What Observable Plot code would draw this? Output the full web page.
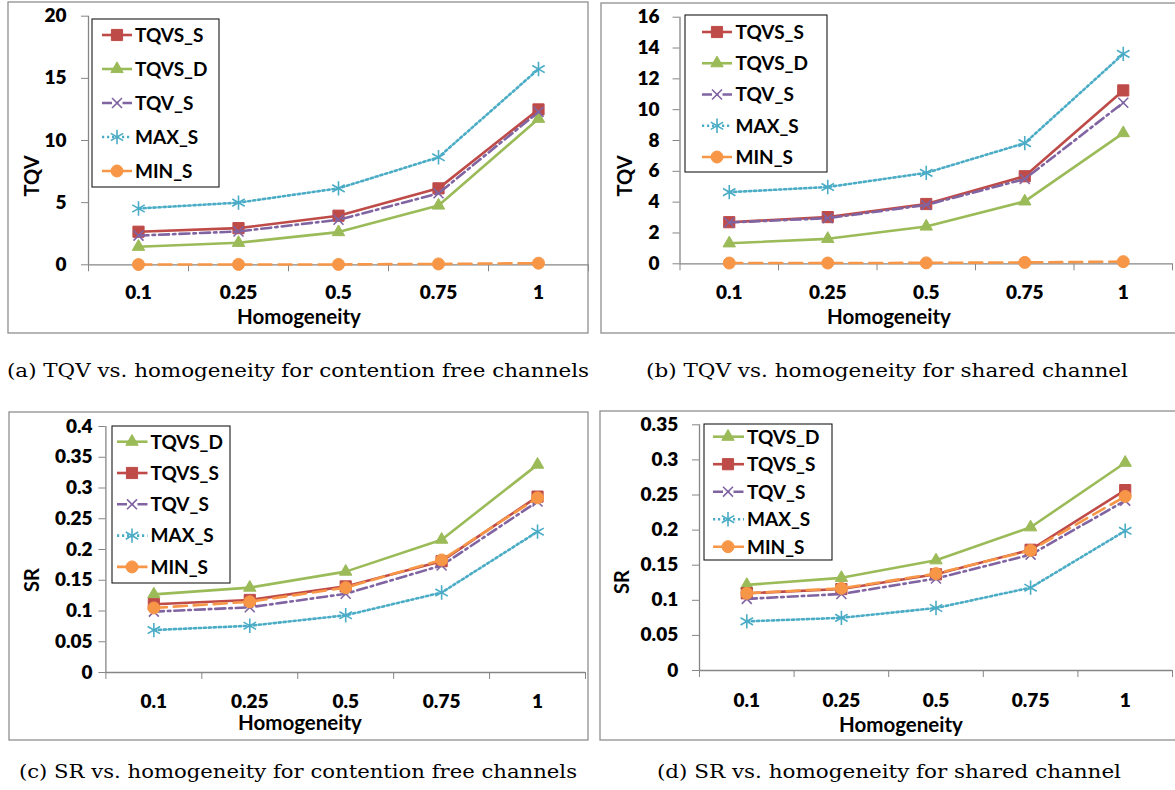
<!DOCTYPE html>
<html>
<head>
<meta charset="utf-8">
<script src="https://cdn.jsdelivr.net/npm/d3@7"></script>
<script src="https://cdn.jsdelivr.net/npm/@observablehq/plot@0.6"></script>
<style>
  html, body { margin: 0; padding: 0; background: #fff; }
  #page { position: relative; width: 1175px; height: 790px; overflow: hidden; background: #fff; }
  .plot { position: absolute; }
  #overlay { position: absolute; left: 0; top: 0; pointer-events: none; }
</style>
</head>
<body>
<div id="page"></div>
<script>
// ---- data -------------------------------------------------------------
const categories = ["0.1", "0.25", "0.5", "0.75", "1"];
const seriesNames = ["TQVS_S", "TQVS_D", "TQV_S", "MAX_S", "MIN_S"];

// TQV, contention free channels
const tqvFree_TQVS_S = [2.66, 2.95, 3.95, 6.15, 12.5];
const tqvFree_TQVS_D = [1.45, 1.77, 2.63, 4.77, 11.75];
const tqvFree_TQV_S  = [2.35, 2.68, 3.62, 5.75, 12.3];
const tqvFree_MAX_S  = [4.53, 5.0, 6.15, 8.65, 15.75];
const tqvFree_MIN_S  = [0.02, 0.03, 0.03, 0.07, 0.13];

// TQV, shared channel
const tqvShared_TQVS_S = [2.7, 3.03, 3.88, 5.68, 11.25];
const tqvShared_TQVS_D = [1.33, 1.62, 2.42, 4.05, 8.48];
const tqvShared_TQV_S  = [2.68, 2.96, 3.82, 5.5, 10.45];
const tqvShared_MAX_S  = [4.65, 4.98, 5.9, 7.83, 13.62];
const tqvShared_MIN_S  = [0.05, 0.05, 0.06, 0.09, 0.14];

// SR, contention free channels
const srFree_TQVS_D = [0.127, 0.138, 0.164, 0.216, 0.338];
const srFree_TQVS_S = [0.111, 0.118, 0.14, 0.181, 0.286];
const srFree_TQV_S  = [0.099, 0.106, 0.128, 0.174, 0.278];
const srFree_MAX_S  = [0.069, 0.076, 0.093, 0.13, 0.229];
const srFree_MIN_S  = [0.105, 0.115, 0.138, 0.183, 0.284];

// SR, shared channel
const srShared_TQVS_D = [0.122, 0.132, 0.157, 0.204, 0.296];
const srShared_TQVS_S = [0.11, 0.116, 0.137, 0.172, 0.257];
const srShared_TQV_S  = [0.102, 0.109, 0.131, 0.165, 0.242];
const srShared_MAX_S  = [0.07, 0.075, 0.089, 0.118, 0.199];
const srShared_MIN_S  = [0.11, 0.117, 0.138, 0.171, 0.248];

// tick labels
const tqvFreeTicks   = [0, 5, 10, 15, 20];
const tqvSharedTicks = [0, 2, 4, 6, 8, 10, 12, 14, 16];
const srFreeTicks    = [0, 0.05, 0.1, 0.15, 0.2, 0.25, 0.3, 0.35, 0.4];
const srSharedTicks  = [0, 0.05, 0.1, 0.15, 0.2, 0.25, 0.3, 0.35];

const xTitle = "Homogeneity";
const captions = [
  "(a) TQV vs. homogeneity for contention free channels",
  "(b) TQV vs. homogeneity for shared channel",
  "(c) SR vs. homogeneity for contention free channels",
  "(d) SR vs. homogeneity for shared channel"
];

// ---- styles -------------------------------------------------------------
const axisGray = "#868686";
const styles = {
  TQVS_S: {color: "#BE4B48", dash: null,         symbol: "square",   r: 6.3, filled: true},
  TQVS_D: {color: "#9BBB59", dash: null,         symbol: "triangle", r: 4.6, filled: true},
  TQV_S:  {color: "#8064A2", dash: "10,4,2.5,4", symbol: "times",    r: 4.6, filled: false},
  MAX_S:  {color: "#4BACC6", dash: "2.2,2.8",    symbol: "asterisk", r: 6.8, filled: false},
  MIN_S:  {color: "#F79646", dash: "13,7",       symbol: "circle",   r: 6.0, filled: true}
};
const chartFont = "Lato, 'Open Sans', sans-serif";
const tickFontSize = 19;

// ---- panel layout -------------------------------------------------------
const panels = [
  {
    values: {TQVS_S: tqvFree_TQVS_S, TQVS_D: tqvFree_TQVS_D, TQV_S: tqvFree_TQV_S, MAX_S: tqvFree_MAX_S, MIN_S: tqvFree_MIN_S},
    order: ["TQVS_S", "TQVS_D", "TQV_S", "MAX_S", "MIN_S"],
    yDomain: [0, 20], yTicks: tqvFreeTicks, yTitle: "TQV",
    frame: {x: 8, y: 2, w: 580, h: 331},
    svg: {left: 8, top: 2, width: 582, height: 331, mt: 13.7, mr: 2, mb: 68.7, ml: 80},
    yPad: 22, xPad: 21,
    xTitlePos: [299, 317], yTitlePos: [32, 176],
    legend: {x: 92, y: 19, w: 127, h: 168, y0: 35, step: 34, l1: 10, l2: 40, m: 25, t: 43},
    caption: [298, 371, 582]
  },
  {
    values: {TQVS_S: tqvShared_TQVS_S, TQVS_D: tqvShared_TQVS_D, TQV_S: tqvShared_TQV_S, MAX_S: tqvShared_MAX_S, MIN_S: tqvShared_MIN_S},
    order: ["TQVS_S", "TQVS_D", "TQV_S", "MAX_S", "MIN_S"],
    yDomain: [0, 16], yTicks: tqvSharedTicks, yTitle: "TQV",
    frame: {x: 601, y: 3, w: 600, h: 330},
    svg: {left: 601, top: 3, width: 574, height: 330, mt: 13.7, mr: 3, mb: 69.7, ml: 78.5},
    yPad: 20.5, xPad: 22,
    xTitlePos: [889, 317], yTitlePos: [625, 176],
    legend: {x: 685, y: 15, w: 142, h: 157, y0: 32, step: 31.25, l1: 17, l2: 47, m: 32, t: 50.5},
    caption: [887, 371, 482]
  },
  {
    values: {TQVS_D: srFree_TQVS_D, TQVS_S: srFree_TQVS_S, TQV_S: srFree_TQV_S, MAX_S: srFree_MAX_S, MIN_S: srFree_MIN_S},
    order: ["TQVS_D", "TQVS_S", "TQV_S", "MAX_S", "MIN_S"],
    yDomain: [0, 0.4], yTicks: srFreeTicks, yTitle: "SR",
    frame: {x: 9, y: 412, w: 579, h: 328},
    svg: {left: 9, top: 412, width: 579, height: 328, mt: 14, mr: 3, mb: 68, ml: 96.4},
    yPad: 13.4, xPad: 21.5,
    xTitlePos: [300, 723], yTitlePos: [32, 580],
    legend: {x: 112, y: 426, w: 118, h: 157, y0: 441.7, step: 31.3, l1: 5, l2: 35.5, m: 20, t: 38.5},
    caption: [298, 772, 558]
  },
  {
    values: {TQVS_D: srShared_TQVS_D, TQVS_S: srShared_TQVS_S, TQV_S: srShared_TQV_S, MAX_S: srShared_MAX_S, MIN_S: srShared_MIN_S},
    order: ["TQVS_D", "TQVS_S", "TQV_S", "MAX_S", "MIN_S"],
    yDomain: [0, 0.35], yTicks: srSharedTicks, yTitle: "SR",
    frame: {x: 600, y: 411, w: 600, h: 329},
    svg: {left: 600, top: 411, width: 575, height: 329, mt: 13.3, mr: 3, mb: 70, ml: 99},
    yPad: 21.3, xPad: 22.5,
    xTitlePos: [901, 725], yTitlePos: [622, 582],
    legend: {x: 704, y: 424, w: 128, h: 136, y0: 436.7, step: 27.5, l1: 9, l2: 40, m: 24, t: 43},
    caption: [889, 772, 464]
  }
];

const page = document.getElementById("page");
const categoryIndex = categories.map((_, i) => i);
const categoryEdges = [-0.5, ...categories.map((_, i) => i + 0.5)];

// ---- charts -------------------------------------------------------------
for (const p of panels) {
  const marks = [
    Plot.ruleY([0], {stroke: axisGray, strokeWidth: 1.3}),
    Plot.ruleX([-0.5], {stroke: axisGray, strokeWidth: 1.3}),
    Plot.axisY({ticks: p.yTicks, tickSize: 7, tickFormat: () => "", stroke: axisGray, label: null}),
    Plot.axisY({ticks: p.yTicks, tickSize: 0, tickPadding: p.yPad, tickFormat: d => String(d),
                fill: "#000", label: null}),
    Plot.axisX({ticks: categoryEdges, tickSize: 7, tickFormat: () => "", stroke: axisGray, label: null}),
    Plot.axisX({ticks: categoryIndex, tickSize: 0, tickPadding: p.xPad, tickFormat: i => categories[i],
                fill: "#000", label: null})
  ];
  for (const name of p.order) {
    const s = styles[name];
    const rows = p.values[name].map((v, i) => ({i, v}));
    marks.push(Plot.line(rows, {x: "i", y: "v", stroke: s.color, strokeWidth: 2.6,
                                strokeDasharray: s.dash, strokeLinejoin: "round"}));
    marks.push(Plot.dot(rows, {x: "i", y: "v", symbol: s.symbol, r: s.r,
                               fill: s.filled ? s.color : "none", stroke: s.color,
                               strokeWidth: s.filled ? 1 : 1.6}));
  }
  const chart = Plot.plot({
    width: p.svg.width, height: p.svg.height,
    marginTop: p.svg.mt, marginRight: p.svg.mr, marginBottom: p.svg.mb, marginLeft: p.svg.ml,
    x: {type: "linear", domain: [-0.5, 4.5], label: null},
    y: {domain: p.yDomain, label: null},
    style: {fontFamily: chartFont, background: "transparent", overflow: "visible", color: "#000"},
    marks
  });
  // tick labels: heavy Lato
  d3.select(chart).selectAll("text")
    .style("font-family", chartFont)
    .style("font-weight", "800")
    .style("font-size", tickFontSize + "px")
    .style("font-variant", "normal");
  chart.classList.add("plot");
  chart.style.left = p.svg.left + "px";
  chart.style.top = p.svg.top + "px";
  page.appendChild(chart);
}

// ---- frames, titles, legends, captions ---------------------------------
const overlay = d3.select(page).append("svg")
  .attr("id", "overlay").attr("width", 1175).attr("height", 790);

panels.forEach((p, idx) => {
  overlay.append("rect")
    .attr("x", p.frame.x).attr("y", p.frame.y).attr("width", p.frame.w).attr("height", p.frame.h)
    .attr("fill", "none").attr("stroke", "#8f8f8f").attr("stroke-width", 1.3);

  overlay.append("text")
    .attr("x", p.xTitlePos[0]).attr("y", p.xTitlePos[1]).attr("dy", "0.36em")
    .attr("text-anchor", "middle").attr("font-family", chartFont)
    .attr("font-weight", "bold").attr("font-size", 20.5).text(xTitle);

  overlay.append("text")
    .attr("transform", `translate(${p.yTitlePos[0]},${p.yTitlePos[1]}) rotate(-90)`)
    .attr("dy", "0.36em").attr("text-anchor", "middle").attr("font-family", chartFont)
    .attr("font-weight", "bold").attr("font-size", 20).text(p.yTitle);

  const L = p.legend;
  const g = overlay.append("g");
  g.append("rect").attr("x", L.x).attr("y", L.y).attr("width", L.w).attr("height", L.h)
    .attr("fill", "#fff").attr("stroke", "#1a1a1a").attr("stroke-width", 1.1);
  p.order.forEach((name, k) => {
    const s = styles[name];
    const y = L.y0 + k * L.step;
    g.append("line").attr("x1", L.x + L.l1).attr("x2", L.x + L.l2).attr("y1", y).attr("y2", y)
      .attr("stroke", s.color).attr("stroke-width", 2.6)
      .attr("stroke-dasharray", s.dash);
    const sym = {square: d3.symbolSquare, triangle: d3.symbolTriangle, times: d3.symbolTimes,
                 asterisk: d3.symbolAsterisk, circle: d3.symbolCircle}[s.symbol];
    g.append("path").attr("d", d3.symbol(sym, Math.PI * s.r * s.r)())
      .attr("transform", `translate(${L.x + L.m},${y})`)
      .attr("fill", s.filled ? s.color : "none").attr("stroke", s.color)
      .attr("stroke-width", s.filled ? 1 : 1.6);
    g.append("text").attr("x", L.x + L.t).attr("y", y).attr("dy", "0.36em")
      .attr("font-family", chartFont).attr("font-weight", "bold").attr("font-size", 19)
      .text(name);
  });

  overlay.append("text")
    .attr("x", p.caption[0]).attr("y", p.caption[1]).attr("dy", "0.32em")
    .attr("text-anchor", "middle")
    .attr("font-family", "'DejaVu Serif', 'Liberation Serif', serif")
    .attr("font-size", 18.5)
    .attr("textLength", p.caption[2]).attr("lengthAdjust", "spacingAndGlyphs")
    .text(captions[idx]);
});
</script>
</body>
</html>
